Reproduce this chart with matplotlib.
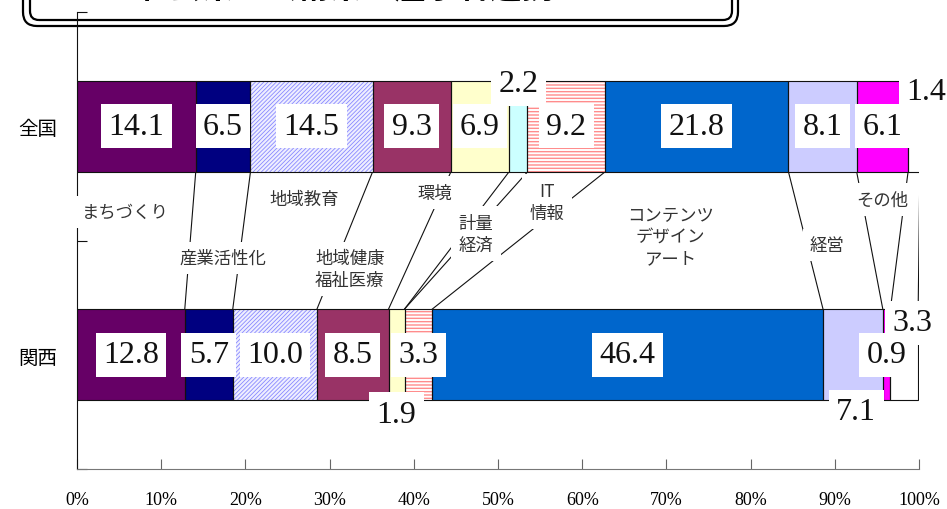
import numpy as np
import matplotlib.pyplot as plt
from matplotlib.patches import FancyBboxPatch
from matplotlib.transforms import IdentityTransform

plt.rcParams['font.family'] = ['Noto Sans CJK JP', 'DejaVu Sans']

regions = ['全国', '関西']
categories = ['まちづくり', '産業活性化', '地域教育', '地域健康\n福祉医療', '環境',
              '計量\n経済', 'IT\n情報', 'コンテンツ\nデザイン\nアート', '経営', 'その他', '']
zenkoku = [14.1, 6.5, 14.5, 9.3, 6.9, 2.2, 9.2, 21.8, 8.1, 6.1, 1.4]
kansai = [12.8, 5.7, 10.0, 8.5, 1.9, 0.0, 3.3, 46.4, 7.1, 0.9, 3.3]
ticks = list(range(0, 101, 10))

colors = ['#660066', '#000080', '#EEEEFF', '#993366', '#FFFFCC', '#CCFFFF',
          '#FFFFFF', '#0066CC', '#CCCCFF', '#FF00FF', '#FFFFFF']
# idx -> (pattern, hatch colour, hatch line width)
hatches = {2: ('////////', '#8888FF', 0.6), 6: ('-----', '#FF8C8C', 1.0)}

# where the category names sit (x in %, y in axis units)
name_pos = [(5.7, 1.125), (17.3, 0.923), (27.0, 1.18), (32.4, 0.875), (42.5, 1.21),
            (47.4, 1.03), (55.8, 1.17), (70.5, 1.02), (89.1, 0.98), (95.7, 1.18), None]

# value labels that don't sit in the middle of their segment: (row, idx) -> (dx, dy)
label_shift = {(0, 5): (0, 0.185), (0, 10): (1.5, 0.15),
               (1, 4): (0, -0.26), (1, 8): (0.4, -0.25), (1, 10): (1.0, 0.14)}

fig = plt.figure(figsize=(9.47, 5.1), dpi=100)
ax = fig.add_axes([77 / 947, 40 / 510, 842 / 947, 457 / 510])
ax.patch.set_visible(False)

row_y = [1.5, 0.5]
h = 0.4
for r, vals in enumerate([zenkoku, kansai]):
    y = row_y[r]
    left = np.concatenate([[0], np.cumsum(vals)[:-1]])
    for i, (v, l) in enumerate(zip(vals, left)):
        if v == 0:
            continue
        if i in hatches:
            hp, hc, hw = hatches[i]
            with plt.rc_context({'hatch.linewidth': hw}):
                ax.barh(y, v, left=l, height=h, color=colors[i], edgecolor=hc,
                        hatch=hp, linewidth=0, zorder=2)
        else:
            ax.barh(y, v, left=l, height=h, color=colors[i], linewidth=0, zorder=2)
        ax.barh(y, v, left=l, height=h, fill=False, edgecolor='#111111',
                linewidth=0.8, zorder=3)

        shifted = (r, i) in label_shift
        dx, dy = label_shift.get((r, i), (0, 0))
        ax.text(l + v / 2 + dx, y + dy, f'{v:.1f}', ha='center', va='center',
                fontsize=23, family='Liberation Serif', color='#111111',
                zorder=5 if shifted else 6,
                bbox=dict(boxstyle='square,pad=0.23', fc='white', ec='none'))

# series lines between the two bars
top_edges = np.cumsum(zenkoku)
bottom_edges = np.cumsum(kansai)
for a, b in zip(top_edges, bottom_edges):
    ax.plot([a, b], [row_y[0] - h / 2, row_y[1] + h / 2], color='#111111',
            linewidth=0.8, zorder=1)

for name, pos in zip(categories, name_pos):
    if pos is None:
        continue
    ax.text(pos[0], pos[1], name, ha='center', va='center', fontsize=12.5,
            color='#333333', linespacing=1.3, zorder=4,
            bbox=dict(boxstyle='square,pad=0.42', fc='white', ec='none'))

ax.set_xlim(0, 100)
ax.set_ylim(0, 2)
ax.set_xticks(ticks)
ax.set_xticklabels([f'{t}%' for t in ticks], family='Liberation Serif', fontsize=13)
ax.tick_params(axis='x', direction='in', length=7, pad=16, color='#666666')
ax.set_yticks([0, 1, 2])
ax.set_yticklabels([])
ax.set_yticks([0.5, 1.5], minor=True)
ax.set_yticklabels(regions[::-1], minor=True, fontsize=14)
ax.tick_params(axis='y', which='major', direction='in', length=7, color='#111111')
ax.tick_params(axis='y', which='minor', length=0, pad=14)
for s in ['top', 'right']:
    ax.spines[s].set_visible(False)
ax.spines['bottom'].set_color('#777777')
ax.spines['left'].set_color('#111111')

# double-ruled rounded title frame running off the top edge
px = IdentityTransform()
fig.patches.append(FancyBboxPatch((23, 483), 715, 80, boxstyle='round,pad=0,rounding_size=14',
                                  fc='white', ec='black', lw=1.6, transform=px, zorder=-1))
fig.patches.append(FancyBboxPatch((30, 489), 702, 80, boxstyle='round,pad=0,rounding_size=9',
                                  fc='none', ec='black', lw=1.6, transform=px, zorder=-1))
fig.text(347, 513, '社会系・芸術系の産学官連携', transform=px, ha='center', va='baseline',
         fontsize=23, fontweight='bold', color='black')

fig.savefig('out.png', dpi=100)
